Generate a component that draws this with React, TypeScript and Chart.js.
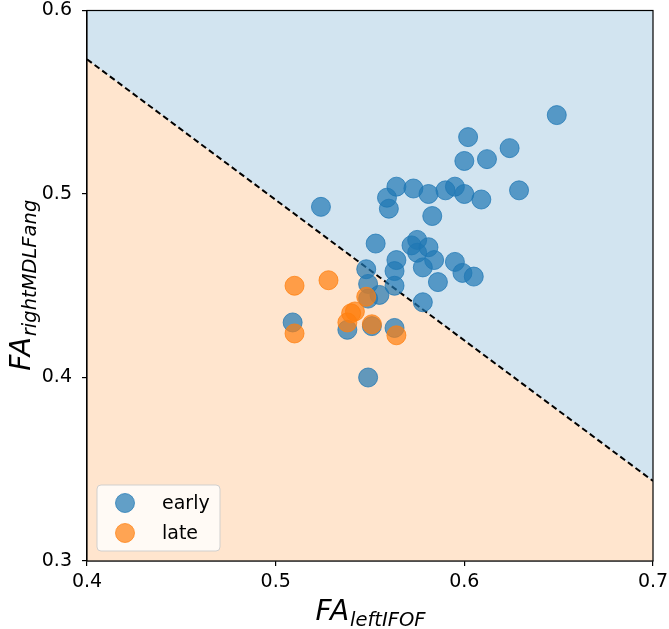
import React, { useEffect, useRef } from "react";
import { Chart, registerables } from "chart.js";

Chart.register(...registerables);

const earlyX = [0.649, 0.602, 0.624, 0.600, 0.612, 0.524, 0.564, 0.559, 0.560, 0.573, 0.581, 0.590, 0.595, 0.600, 0.609, 0.629, 0.583, 0.553, 0.572, 0.575, 0.575, 0.581, 0.584, 0.578, 0.595, 0.599, 0.605, 0.586, 0.578, 0.548, 0.564, 0.563, 0.549, 0.563, 0.555, 0.549, 0.509, 0.538, 0.551, 0.563, 0.549];
const earlyY = [0.543, 0.531, 0.525, 0.518, 0.519, 0.493, 0.504, 0.498, 0.492, 0.503, 0.500, 0.502, 0.504, 0.500, 0.497, 0.502, 0.488, 0.473, 0.472, 0.475, 0.468, 0.471, 0.464, 0.460, 0.463, 0.457, 0.455, 0.452, 0.441, 0.459, 0.464, 0.458, 0.451, 0.450, 0.445, 0.443, 0.430, 0.426, 0.428, 0.427, 0.400];
const lateX = [0.510, 0.528, 0.548, 0.542, 0.540, 0.538, 0.551, 0.564, 0.510];
const lateY = [0.450, 0.453, 0.444, 0.436, 0.435, 0.430, 0.429, 0.423, 0.424];
const boundaryX = [0.4, 0.7];
const boundaryY = [0.5734, 0.3436];
const xTicks = [0.4, 0.5, 0.6, 0.7];
const yTicks = [0.3, 0.4, 0.5, 0.6];
const seriesNames = ["early", "late"];
const xTitleMain = "FA";
const xTitleSub = "leftIFOF";
const yTitleMain = "FA";
const yTitleSub = "rightMDLFang";

const BLUE = "31,119,180";
const ORANGE = "255,127,14";
const FONT = "'DejaVu Sans', sans-serif";

function drawMathLabel(ctx: CanvasRenderingContext2D, main: string, sub: string, cx: number, baseline: number) {
  const mainFont = `italic 28px ${FONT}`;
  const subFont = `italic 19.5px ${FONT}`;
  ctx.font = mainFont;
  const wm = ctx.measureText(main).width;
  ctx.font = subFont;
  const ws = ctx.measureText(sub).width;
  const start = cx - (wm + ws) / 2;
  ctx.fillStyle = "#000";
  ctx.textBaseline = "alphabetic";
  ctx.textAlign = "left";
  ctx.font = mainFont;
  ctx.fillText(main, start, baseline);
  ctx.font = subFont;
  ctx.fillText(sub, start + wm + 1, baseline + 6);
}

const decorPlugin = {
  id: "decor",
  afterDraw(chart: any) {
    const { ctx, chartArea } = chart;
    const { left, right, top, bottom } = chartArea;
    ctx.save();
    ctx.strokeStyle = "#000";
    ctx.lineWidth = 1.2;
    ctx.strokeRect(left, top, right - left, bottom - top);
    drawMathLabel(ctx, xTitleMain, xTitleSub, (left + right) / 2, 620);
    ctx.save();
    ctx.translate(30, (top + bottom) / 2);
    ctx.rotate(-Math.PI / 2);
    drawMathLabel(ctx, yTitleMain, yTitleSub, 0, 0);
    ctx.restore();
    const bx = left + 10;
    const by = bottom - 10 - 66;
    const bw = 123;
    const bh = 66;
    const r = 4;
    ctx.beginPath();
    ctx.moveTo(bx + r, by);
    ctx.lineTo(bx + bw - r, by);
    ctx.arcTo(bx + bw, by, bx + bw, by + r, r);
    ctx.lineTo(bx + bw, by + bh - r);
    ctx.arcTo(bx + bw, by + bh, bx + bw - r, by + bh, r);
    ctx.lineTo(bx + r, by + bh);
    ctx.arcTo(bx, by + bh, bx, by + bh - r, r);
    ctx.lineTo(bx, by + r);
    ctx.arcTo(bx, by, bx + r, by, r);
    ctx.closePath();
    ctx.fillStyle = "rgba(255,255,255,0.8)";
    ctx.fill();
    ctx.strokeStyle = "rgba(204,204,204,0.9)";
    ctx.lineWidth = 1;
    ctx.stroke();
    const cols = [BLUE, ORANGE];
    seriesNames.forEach((name, i) => {
      const cy = by + 18 + i * 30;
      ctx.beginPath();
      ctx.arc(bx + 28, cy, 9.5, 0, Math.PI * 2);
      ctx.fillStyle = `rgba(${cols[i]},0.7)`;
      ctx.fill();
      ctx.strokeStyle = `rgba(${cols[i]},0.7)`;
      ctx.lineWidth = 1;
      ctx.stroke();
      ctx.fillStyle = "#000";
      ctx.font = `19px ${FONT}`;
      ctx.textAlign = "left";
      ctx.textBaseline = "middle";
      ctx.fillText(name, bx + 65, cy + 1);
    });
    ctx.restore();
  },
};

export default function App() {
  const ref = useRef<HTMLCanvasElement | null>(null);
  useEffect(() => {
    document.body.style.margin = "0";
    const canvas = ref.current;
    if (!canvas) return;
    const toPts = (xs: number[], ys: number[]) => xs.map((x, i) => ({ x, y: ys[i] }));
    const chart = new Chart(canvas, {
      type: "scatter",
      data: {
        datasets: [
          {
            label: seriesNames[1],
            data: toPts(lateX, lateY),
            backgroundColor: `rgba(${ORANGE},0.7)`,
            borderColor: `rgba(${ORANGE},0.75)`,
            borderWidth: 1,
            pointRadius: 9.5,
            order: 0,
          },
          {
            label: seriesNames[0],
            data: toPts(earlyX, earlyY),
            backgroundColor: `rgba(${BLUE},0.7)`,
            borderColor: `rgba(${BLUE},0.75)`,
            borderWidth: 1,
            pointRadius: 9.5,
            order: 1,
          },
          {
            type: "line",
            label: "boundary",
            data: toPts(boundaryX, boundaryY),
            borderColor: "#000",
            borderWidth: 2,
            borderDash: [6, 3.5],
            pointRadius: 0,
            fill: false,
            order: 2,
          } as any,
          {
            type: "line",
            label: "upper",
            data: toPts(boundaryX, boundaryY),
            borderWidth: 0,
            pointRadius: 0,
            backgroundColor: "rgba(210,228,240,1)",
            fill: "end",
            order: 3,
          } as any,
          {
            type: "line",
            label: "lower",
            data: toPts(boundaryX, boundaryY),
            borderWidth: 0,
            pointRadius: 0,
            backgroundColor: "rgba(255,229,206,1)",
            fill: "start",
            order: 4,
          } as any,
        ],
      },
      options: {
        responsive: false,
        animation: false,
        layout: { padding: { top: 8, right: 16, left: 0, bottom: 0 } },
        plugins: { legend: { display: false }, tooltip: { enabled: false } },
        scales: {
          x: {
            type: "linear",
            min: 0.4,
            max: 0.7,
            afterBuildTicks: (s: any) => {
              s.ticks = xTicks.map((v) => ({ value: v }));
            },
            afterFit: (s: any) => {
              s.height = 68;
              s.paddingLeft = 0;
              s.paddingRight = 0;
            },
            ticks: {
              font: { family: FONT, size: 19 },
              color: "#000",
              padding: 5,
              maxRotation: 0,
              callback: (v: any) => Number(v).toFixed(1),
            },
            grid: { display: true, drawOnChartArea: false, drawTicks: true, tickLength: 5, color: "#000", lineWidth: 1.2 },
            border: { display: true, color: "#000", width: 1.2 },
          },
          y: {
            type: "linear",
            min: 0.3,
            max: 0.6,
            afterBuildTicks: (s: any) => {
              s.ticks = yTicks.map((v) => ({ value: v }));
            },
            afterFit: (s: any) => {
              s.width = 87;
              s.paddingTop = 0;
              s.paddingBottom = 0;
            },
            ticks: {
              font: { family: FONT, size: 19 },
              color: "#000",
              padding: 10,
              callback: (v: any) => Number(v).toFixed(1),
            },
            grid: { display: true, drawOnChartArea: false, drawTicks: true, tickLength: 5, color: "#000", lineWidth: 1.2 },
            border: { display: true, color: "#000", width: 1.2 },
          },
        },
      },
      plugins: [decorPlugin],
    } as any);
    return () => chart.destroy();
  }, []);
  return (
    <div style={{ width: 669, height: 629, background: "#fff" }}>
      <canvas ref={ref} width={669} height={629} style={{ display: "block" }} />
    </div>
  );
}
